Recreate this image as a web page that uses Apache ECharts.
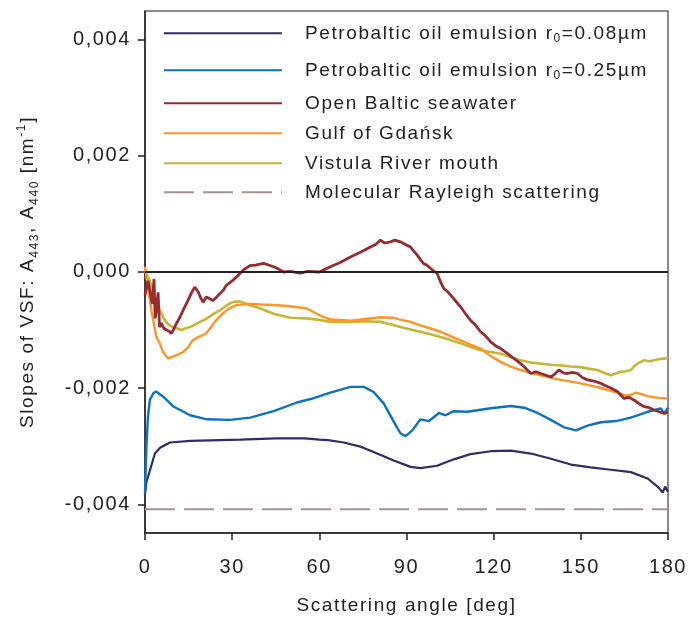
<!DOCTYPE html>
<html><head><meta charset="utf-8">
<script src="https://cdn.jsdelivr.net/npm/echarts@6/dist/echarts.min.js"></script>
<style>html,body{margin:0;padding:0;background:#fff}#c{width:700px;height:630px}</style>
</head><body><div id="c"></div>
<script>
// mild letter tracking like the original figure's typesetting
(function(){
  var p = CanvasRenderingContext2D.prototype, of = p.fillText, om = p.measureText;
  if (!('letterSpacing' in p)) return;
  p.fillText = function(){ this.letterSpacing = '1.6px'; return of.apply(this, arguments); };
  p.measureText = function(t){ this.letterSpacing = '1.6px'; return om.call(this, t); };
})();

const legendNames = [
  'Petrobaltic oil emulsion r0=0.08µm',
  'Petrobaltic oil emulsion r0=0.25µm',
  'Open Baltic seawater',
  'Gulf of Gdańsk',
  'Vistula River mouth',
  'Molecular Rayleigh scattering'
];
const xTicks = [0, 30, 60, 90, 120, 150, 180];
const yTicks = [-0.004, -0.002, 0, 0.002, 0.004];

const angNavy = [0,0.5,1.7,3.4,5.2,8.6,15.5,32.8,45,55,60,63,68.4,74.1,79.9,85.6,91.4,94.8,100.5,106.3,112,119,125.9,132.8,139.7,146.6,153.4,160.3,167.2,173,176.4,178.2,179,180];
const valNavy = [-0.00382,-0.00362,-0.00342,-0.00313,-0.00303,-0.00294,-0.00291,-0.00289,-0.00287,-0.00287,-0.00289,-0.0029,-0.00294,-0.00301,-0.00313,-0.00325,-0.00336,-0.00338,-0.00334,-0.00323,-0.00314,-0.00309,-0.00308,-0.00313,-0.00322,-0.00332,-0.00337,-0.00341,-0.00345,-0.00356,-0.0037,-0.0038,-0.0037,-0.00379];

const angBlue = [0,0.5,1.0,1.7,2.9,3.8,6.3,9.8,15.5,21.3,29.3,36.2,44.3,52.3,57,63.8,70.7,75.3,78.7,82.2,85.6,87.9,89.7,92,94.8,97.7,101.2,103.4,106.3,110.9,119,125.9,130.5,135.1,139.7,144.3,148.3,152.3,156.9,162.1,167.2,173,177.6,178.7,180];
const valBlue = [-0.00382,-0.003,-0.0025,-0.0022,-0.00209,-0.00206,-0.00215,-0.00232,-0.00247,-0.00254,-0.00255,-0.00251,-0.0024,-0.00225,-0.00219,-0.00208,-0.00198,-0.00198,-0.00207,-0.00227,-0.00258,-0.00278,-0.00283,-0.00273,-0.00254,-0.00257,-0.00243,-0.00247,-0.0024,-0.00241,-0.00235,-0.00231,-0.00234,-0.00243,-0.00255,-0.00268,-0.00273,-0.00265,-0.00259,-0.00257,-0.00251,-0.00241,-0.00235,-0.00244,-0.00234];

const angRed = [0,0.5,1.0,1.6,2.5,3.1,3.5,4.0,4.5,5.0,5.6,6.5,7.4,8.3,9.1,10.0,10.8,12,13.1,14.8,16,17.1,18.3,19.2,20,21.1,22.3,23.4,24.5,25.8,27,28,30.3,32.6,34,36.1,38,40.8,42.5,44.3,46,47.7,50,53.4,56,60,63.8,67,70.7,74.1,77.6,79.5,81,82.5,84.5,86,87.9,89.5,91.4,92.5,93.7,95,96,97,98.3,100.6,101.8,102.9,104,105.2,106.9,108.6,110.3,112,113.8,115.5,117.2,118.9,120.6,122.4,124.1,126.7,129.3,131,132.8,134.5,136.2,138,139.7,141,142.5,144,145.4,147,148.9,150.5,152.3,154.5,156.9,158.5,160.3,162.6,164.9,166.5,168.4,170,171.8,173.5,175.2,177,178.7,180];
const valRed = [-0.0004,-0.00043,-0.00015,-0.0003,-0.00055,-0.00012,-0.0008,-0.00062,-0.00035,-0.00095,-0.00088,-0.00097,-0.001,-0.00102,-0.00106,-0.00097,-0.00089,-0.00078,-0.00066,-0.00049,-0.00036,-0.00026,-0.00034,-0.00045,-0.00052,-0.00043,-0.00046,-0.00049,-0.00044,-0.00037,-0.00031,-0.00023,-0.00014,-0.00003,0.00004,0.00011,0.00012,0.00015,0.00012,0.00009,0.00005,0,0.00001,-0.00002,0.00001,0,0.00009,0.00016,0.00026,0.00034,0.00043,0.00048,0.00055,0.0005,0.00052,0.00055,0.00052,0.00048,0.00043,0.00036,0.00029,0.0002,0.00014,0.00012,0.00006,-0.00003,-0.00018,-0.00029,-0.00033,-0.0004,-0.0005,-0.0006,-0.00072,-0.00083,-0.00092,-0.00103,-0.0011,-0.0012,-0.00127,-0.00132,-0.00138,-0.00148,-0.00158,-0.00166,-0.00175,-0.00172,-0.00175,-0.00178,-0.00181,-0.00176,-0.00169,-0.00174,-0.00175,-0.00173,-0.00175,-0.00182,-0.00186,-0.00188,-0.00192,-0.00196,-0.002,-0.00206,-0.00218,-0.00216,-0.00221,-0.00227,-0.00232,-0.00234,-0.00238,-0.00241,-0.00244,-0.00242];

const angOrange = [0,0.5,1.0,2.2,3.0,3.9,5.1,6.2,7.9,9.7,11.5,13.1,14.8,16.4,18,19.8,21,22.3,24,26,28,29.7,31.5,33.5,36.1,40,44.3,50,55.7,58,60.3,63.8,70.7,76,81,85.6,87.9,91.4,94.8,98,101.7,105,108.6,112,115.5,119,122.4,125.9,129.3,132.8,136.2,139.7,143.1,146.6,150,153.4,156.9,160.3,163.8,165.5,167.2,169,170.6,173,175.2,177,179.3,180];
const valOrange = [0.00009,0.00009,-0.00026,-0.00066,-0.00088,-0.00112,-0.00123,-0.00138,-0.00149,-0.00146,-0.00142,-0.00138,-0.0013,-0.00118,-0.00113,-0.00109,-0.00106,-0.00098,-0.00086,-0.00075,-0.00066,-0.00061,-0.00057,-0.00056,-0.00055,-0.00056,-0.00057,-0.00059,-0.00063,-0.00069,-0.00075,-0.00082,-0.00084,-0.00081,-0.00078,-0.00079,-0.00082,-0.00086,-0.00092,-0.00097,-0.00103,-0.0011,-0.00118,-0.00125,-0.00132,-0.00145,-0.00155,-0.00163,-0.00169,-0.00174,-0.00178,-0.00182,-0.00186,-0.00189,-0.00192,-0.00196,-0.002,-0.00205,-0.0021,-0.00213,-0.00212,-0.00208,-0.0021,-0.00214,-0.00216,-0.00217,-0.00218,-0.00217];

const angYellow = [0,0.5,1.6,2.4,3.3,4.2,5.1,6.8,8.2,9.7,11,12.5,14,15.4,17,18.9,20.5,22.3,24,25.8,27.5,29.2,31,32.6,34.5,36.1,39.7,44.3,50,55.7,60.3,63.8,70.7,76,81,84.5,87.9,91.4,94.8,98,101.7,105,108.6,112,115.5,119,122.4,125.9,129.3,132.8,136.2,139.7,143.1,146.6,150,153,155.7,158,160.3,162,163.8,165.5,167.2,168.5,169.5,171.8,173.5,175.2,177,179.3,180];
const valYellow = [0.00005,-0.00003,-0.00014,-0.00028,-0.00043,-0.00055,-0.00066,-0.00083,-0.00091,-0.00095,-0.00097,-0.001,-0.00097,-0.00095,-0.00091,-0.00086,-0.00082,-0.00077,-0.00071,-0.00066,-0.0006,-0.00054,-0.00051,-0.00051,-0.00054,-0.00057,-0.00063,-0.00072,-0.00079,-0.0008,-0.00083,-0.00086,-0.00086,-0.00085,-0.00086,-0.0009,-0.00095,-0.00099,-0.00103,-0.00107,-0.00112,-0.00117,-0.00123,-0.00129,-0.00135,-0.00138,-0.00141,-0.00147,-0.00152,-0.00156,-0.00158,-0.0016,-0.00161,-0.00163,-0.00164,-0.00167,-0.00169,-0.00174,-0.00178,-0.00175,-0.00172,-0.00171,-0.00169,-0.00162,-0.00158,-0.00152,-0.00154,-0.00152,-0.0015,-0.00149,-0.00148];

const angRay = [0, 180];
const valRay = [-0.00409, -0.00409];

function pairs(a, v){ return a.map((x, i) => [x, v[i]]); }

const FONT = 'Liberation Sans, Arial, sans-serif';
const legendRich = {
  a: {fontSize: 19, fontFamily: FONT, color: '#222', lineHeight: 24},
  s: {fontSize: 12, fontFamily: FONT, color: '#222', lineHeight: 24, verticalAlign: 'bottom'}
};
function legendFmt(name){
  const m = name.match(/^(.*r)0(=.*)$/);
  if (m) return '{a|' + m[1] + '}{s|0}{a|' + m[2] + '}';
  return '{a|' + name + '}';
}
const legendTops = [18, 55, 88, 118, 148, 177];
const legends = legendNames.map((n, i) => ({
  data: [n], left: 158, top: legendTops[i], orient: 'vertical',
  itemWidth: 118, itemHeight: 14, selectedMode: false,
  itemStyle: {opacity: 0},
  formatter: legendFmt,
  textStyle: {padding: [0, 0, 0, 18], rich: legendRich, fontSize: 19, fontFamily: FONT, color: '#222'}
}));

const colors = ['#2f2d66', '#0a73c1', '#962b30', '#ff9326', '#c9b535', '#a4938f'];

function lineSeries(name, data, color, width, extra){
  return Object.assign({
    name: name, type: 'line', data: data, symbol: 'none', showSymbol: false,
    xAxisIndex: 0, yAxisIndex: 0, animation: false,
    lineStyle: {color: color, width: width}, itemStyle: {color: color}
  }, extra || {});
}

const chart = echarts.init(document.getElementById('c'), null, {renderer: 'canvas'});
chart.setOption({
  animation: false,
  backgroundColor: '#fff',
  legend: legends,
  grid: [
    {left: 145, right: 32, top: 11, bottom: 97, show: true, borderColor: '#666', borderWidth: 1.5, outerBoundsMode: 'none', containLabel: false},
    {left: 145, right: 32, top: 39.3, bottom: 125.7, outerBoundsMode: 'none', containLabel: false}
  ],
  xAxis: [
    {gridIndex: 0, type: 'value', min: 0, max: 180, interval: 30,
     splitLine: {show: false},
     axisLine: {show: true, onZero: false, lineStyle: {color: '#222', width: 1.5}},
     axisTick: {show: true, inside: false, length: 7, lineStyle: {color: '#222', width: 1.5}},
     axisLabel: {fontSize: 20, fontFamily: FONT, color: '#222', margin: 24,
       formatter: v => xTicks.indexOf(v) >= 0 ? String(v) : ''},
     name: 'Scattering angle [deg]', nameLocation: 'middle', nameGap: 62,
     nameTextStyle: {fontSize: 19, fontFamily: FONT, color: '#222'}},
    {gridIndex: 1, type: 'value', min: 0, max: 180, show: false}
  ],
  yAxis: [
    {gridIndex: 0, type: 'value', min: -0.0045, max: 0.0045,
     splitLine: {show: false},
     axisLine: {show: true, onZero: false, lineStyle: {color: '#222', width: 1.5}},
     axisTick: {show: false}, axisLabel: {show: false},
     name: '{a|Slopes of VSF: A}{s|443}{a|, A}{s|440}{a| [nm}{p|-1}{a|]}',
     nameLocation: 'middle', nameRotate: 90, nameGap: 104,
     nameTextStyle: {rich: {
       a: {fontSize: 19, fontFamily: FONT, color: '#222', lineHeight: 26},
       s: {fontSize: 12, fontFamily: FONT, color: '#222', lineHeight: 26, verticalAlign: 'bottom'},
       p: {fontSize: 12, fontFamily: FONT, color: '#222', lineHeight: 26, verticalAlign: 'top'}
     }}},
    {gridIndex: 1, type: 'value', min: yTicks[0], max: yTicks[yTicks.length - 1], interval: 0.002,
     splitLine: {show: false},
     axisLine: {show: false},
     axisTick: {show: true, inside: false, length: 7, lineStyle: {color: '#222', width: 1.5}},
     axisLabel: {fontSize: 20, fontFamily: FONT, color: '#222', margin: 14,
       formatter: v => v.toFixed(3).replace('.', ',').replace('-0,000', '0,000')}}
  ],
  series: [
    lineSeries(legendNames[5], pairs(angRay, valRay), colors[5], 2, {lineStyle: {color: colors[5], width: 2, type: [30, 9]}}),
    lineSeries(legendNames[0], pairs(angNavy, valNavy), colors[0], 2.2, {
      markLine: {silent: true, symbol: 'none', animation: false, label: {show: false},
        lineStyle: {color: '#222', width: 2, type: 'solid'}, data: [{yAxis: 0}]}
    }),
    lineSeries(legendNames[1], pairs(angBlue, valBlue), colors[1], 2.4),
    lineSeries(legendNames[4], pairs(angYellow, valYellow), colors[4], 2.6),
    lineSeries(legendNames[3], pairs(angOrange, valOrange), colors[3], 2.4),
    lineSeries(legendNames[2], pairs(angRed, valRed), colors[2], 2.8),
    {type: 'line', xAxisIndex: 1, yAxisIndex: 1, data: [], symbol: 'none', silent: true}
  ]
});
</script></body></html>
